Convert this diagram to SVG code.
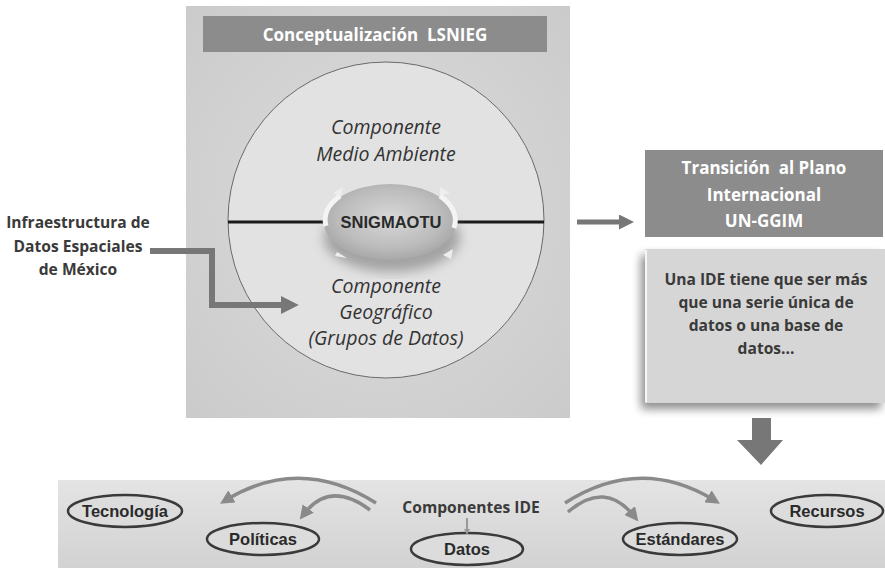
<svg xmlns="http://www.w3.org/2000/svg" width="885" height="572" viewBox="0 0 885 572">
<defs>
<style>
.cal{font-family:"Open Sans","Liberation Sans",sans-serif}
.ar{font-family:"Liberation Sans",Arial,sans-serif;font-weight:bold}
.wt{fill:#fff;font-weight:bold;font-size:17px}
.it{font-style:italic;font-size:19.5px;fill:#333}
.dk{font-weight:bold;font-size:15.6px;fill:#3a3a3a}
.pill{fill:#dcdcdc;stroke:#3a3a3a;stroke-width:2.5}
.pl{font-size:16.5px;fill:#2a2a2a}
.arc{fill:none;stroke:#8a8a8a;stroke-width:3.5;marker-end:url(#ah)}
</style>
<marker id="ah" markerWidth="4" markerHeight="4" refX="2" refY="2" orient="auto" markerUnits="strokeWidth">
<path d="M0,0 L4,2 L0,4 z" fill="#8a8a8a"/>
</marker>
<marker id="bh" markerWidth="3" markerHeight="3" refX="1.2" refY="1.5" orient="auto" markerUnits="strokeWidth">
<path d="M0,0 L3,1.5 L0,3 z" fill="#777"/>
</marker>
<linearGradient id="band" x1="0" y1="0" x2="0" y2="1">
<stop offset="0" stop-color="#e4e4e4"/><stop offset="1" stop-color="#d2d2d2"/>
</linearGradient>
<radialGradient id="panelg" cx="0.5" cy="0.5" r="0.7">
<stop offset="0" stop-color="#dcdcdc"/><stop offset="1" stop-color="#cbcbcb"/>
</radialGradient>
<radialGradient id="oval" cx="0.5" cy="0.45" r="0.55">
<stop offset="0" stop-color="#d8d8d8"/><stop offset="0.7" stop-color="#bcbcbc"/><stop offset="1" stop-color="#a8a8a8"/>
</radialGradient>
<filter id="sh" x="-20%" y="-20%" width="140%" height="140%">
<feGaussianBlur in="SourceAlpha" stdDeviation="5"/>
<feOffset dx="-4" dy="6"/>
<feComponentTransfer><feFuncA type="linear" slope="0.45"/></feComponentTransfer>
<feMerge><feMergeNode/><feMergeNode in="SourceGraphic"/></feMerge>
</filter>
<filter id="blur"><feGaussianBlur stdDeviation="6"/></filter>
</defs>
<rect width="885" height="572" fill="#fff"/>

<g id="panel">
<rect x="186" y="6" width="384" height="412" fill="url(#panelg)"/>
<rect x="203" y="16" width="344" height="36" fill="#8c8c8c"/>
<text class="cal wt" x="375" y="40.5" text-anchor="middle" font-size="19" xml:space="preserve">Conceptualización  LSNIEG</text>
<circle cx="386" cy="220" r="158" fill="#e2e2e2" stroke="#6a6a6a" stroke-width="1"/>
<line x1="228" y1="222" x2="544" y2="222" stroke="#1a1a1a" stroke-width="3"/>
<text class="cal it" x="386" y="134" text-anchor="middle">Componente</text>
<text class="cal it" x="386" y="161" text-anchor="middle">Medio Ambiente</text>
<text class="cal it" x="386" y="293" text-anchor="middle">Componente</text>
<text class="cal it" x="386" y="319" text-anchor="middle">Geográfico</text>
<text class="cal it" x="386" y="345" text-anchor="middle">(Grupos de Datos)</text>
</g>

<g id="snigmaotu">
<ellipse cx="392" cy="238" rx="68" ry="34" fill="#888" filter="url(#blur)" opacity="0.7"/>
<ellipse cx="390" cy="222" rx="66" ry="38" fill="url(#oval)"/>
<path d="M326,226 A66,38 0 0 1 340,196" fill="none" stroke="#f4f4f4" stroke-width="5"/>
<path d="M440,196 A66,38 0 0 1 454,228" fill="none" stroke="#f4f4f4" stroke-width="5"/>
<path d="M333,193 l10,-6 l-2,10 z M440,187 l10,6 l-10,3 z M337,252 l10,6 l-12,-2 z M443,255 l10,-6 l-2,10 z" fill="#eee"/>
<text class="ar" x="391" y="228" text-anchor="middle" font-size="16.5" fill="#2a2a2a">SNIGMAOTU</text>
</g>

<g id="ide-mexico">
<text class="cal dk" x="78" y="228" text-anchor="middle" fill="#1a1a1a">Infraestructura de</text>
<text class="cal dk" x="78" y="252" text-anchor="middle" fill="#1a1a1a">Datos Espaciales</text>
<text class="cal dk" x="78" y="275" text-anchor="middle" fill="#1a1a1a">de México</text>
</g>

<g id="transicion">
<rect x="645" y="150" width="238" height="87" fill="#8c8c8c"/>
<text class="cal wt" x="764" y="174" text-anchor="middle" xml:space="preserve">Transición  al Plano</text>
<text class="cal wt" x="764" y="201" text-anchor="middle">Internacional</text>
<text class="cal wt" x="764" y="227" text-anchor="middle">UN-GGIM</text>
</g>

<g id="ide-box">
<rect x="645" y="249" width="240" height="154" fill="#d6d6d6" filter="url(#sh)"/>
<line x1="646" y1="250" x2="646" y2="402" stroke="#f6f6f6" stroke-width="2"/>
<text class="cal dk" x="766" y="285" text-anchor="middle">Una IDE tiene que ser más</text>
<text class="cal dk" x="766" y="308" text-anchor="middle">que una serie única de</text>
<text class="cal dk" x="766" y="331" text-anchor="middle">datos o una base de</text>
<text class="cal dk" x="766" y="354" text-anchor="middle">datos...</text>
</g>

<g id="componentes-band">
<rect x="58" y="480" width="827" height="88" fill="url(#band)"/>
<text class="cal dk" x="471" y="513" text-anchor="middle" fill="#1a1a1a" font-size="16">Componentes IDE</text>
</g>

<g id="tecnologia"><ellipse class="pill" cx="125" cy="511" rx="57" ry="16"/><text class="ar pl" x="125" y="517" text-anchor="middle">Tecnología</text></g>
<g id="politicas"><ellipse class="pill" cx="263" cy="539" rx="56" ry="16"/><text class="ar pl" x="263" y="545" text-anchor="middle">Políticas</text></g>
<g id="datos"><ellipse class="pill" cx="467" cy="549" rx="56" ry="16"/><text class="ar pl" x="467" y="555" text-anchor="middle">Datos</text></g>
<g id="estandares"><ellipse class="pill" cx="680" cy="539" rx="57" ry="16"/><text class="ar pl" x="680" y="545" text-anchor="middle">Estándares</text></g>
<g id="recursos"><ellipse class="pill" cx="827" cy="511" rx="56" ry="16"/><text class="ar pl" x="827" y="517" text-anchor="middle">Recursos</text></g>

<g id="connectors">
<path d="M150,251 H212 V305 H288" fill="none" stroke="#777" stroke-width="6" marker-end="url(#bh)"/>
<path d="M577,222 H625" fill="none" stroke="#777" stroke-width="5" marker-end="url(#bh)"/>
<path d="M752,418 H771 V440 H783 L761,465 L737,440 H752 Z" fill="#777"/>
<line x1="467" y1="518" x2="467" y2="530" stroke="#999" stroke-width="2"/>
<path d="M467,535 l-3,-6 h6 z" fill="#999"/>
<path class="arc" d="M376,503 Q300,455 226,500"/>
<path class="arc" d="M370,510 Q330,480 304,514"/>
<path class="arc" d="M565,503 Q640,455 714,500"/>
<path class="arc" d="M568,512 Q605,480 634,516"/>
</g>
</svg>
